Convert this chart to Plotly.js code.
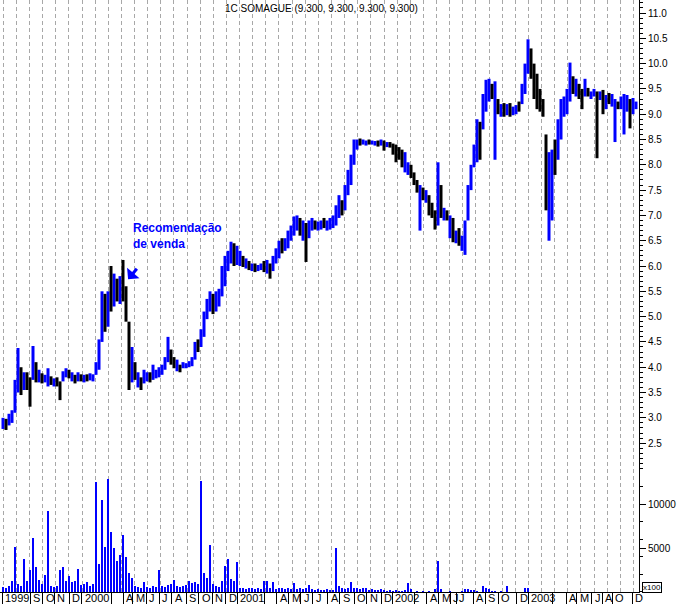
<!DOCTYPE html>
<html><head><meta charset="utf-8">
<script src="https://cdn.plot.ly/plotly-3.0.1.min.js"></script>
<style>html,body{margin:0;padding:0;background:#fff}#chart{width:679px;height:604px}</style>
</head><body><div id="chart"></div>
<script>
// Price bars (sampled), high / low per bar
const highs = [3.0,2.98,3.08,3.15,3.75,4.38,4.0,3.9,3.9,3.8,
4.42,4.1,3.95,3.88,3.85,3.98,3.82,3.78,3.8,3.72,
3.92,3.98,3.95,3.9,3.85,3.9,3.86,3.85,3.86,3.88,
3.86,4.1,4.55,5.5,5.45,5.5,6.0,5.85,5.75,5.8,
6.12,5.6,4.9,4.4,4.1,3.9,3.8,3.95,3.9,3.9,
4.05,3.95,4.0,4.05,4.2,4.6,4.35,4.2,4.15,4.05,
4.1,4.08,4.12,4.2,4.5,4.55,4.75,5.1,5.35,5.5,
5.45,5.5,5.55,6.0,6.2,6.3,6.48,6.45,6.4,6.3,
6.2,6.15,6.1,6.05,6.05,6.02,6.05,6.1,6.12,6.05,
6.2,6.35,6.5,6.55,6.55,6.7,6.8,6.98,7.0,6.95,
6.9,6.85,6.9,6.95,6.9,6.88,6.9,6.95,6.9,6.95,
7.0,7.2,7.4,7.3,7.6,7.9,8.2,8.5,8.5,8.52,
8.5,8.48,8.5,8.48,8.47,8.48,8.5,8.48,8.45,8.45,
8.42,8.4,8.35,8.3,8.25,8.05,8.0,7.85,7.7,7.6,
7.55,7.5,7.4,7.25,7.1,8.05,7.6,7.15,7.1,7.0,
6.95,6.7,6.75,6.6,6.9,7.6,8.0,8.4,8.9,8.85,
9.4,9.68,9.7,9.6,9.65,9.3,9.2,9.22,9.2,9.22,
9.15,9.18,9.25,9.6,10.0,10.48,10.3,10.0,9.8,9.5,
9.3,8.6,8.25,8.3,8.5,8.9,9.3,9.35,9.5,10.02,
9.75,9.7,9.6,9.5,9.7,9.52,9.45,9.5,9.45,9.45,
9.48,9.38,9.42,9.4,9.3,9.25,9.35,9.4,9.38,9.3,
9.32,9.25];
const lows = [2.78,2.76,2.85,2.9,3.1,3.5,3.45,3.55,3.55,3.22,
3.75,3.7,3.7,3.68,3.7,3.62,3.65,3.62,3.62,3.35,
3.72,3.8,3.78,3.72,3.68,3.72,3.72,3.7,3.72,3.74,
3.72,3.85,3.95,4.5,4.7,4.8,5.1,5.2,5.3,5.25,
5.3,4.9,3.55,3.7,3.75,3.6,3.55,3.68,3.72,3.7,
3.75,3.78,3.8,3.85,3.95,4.1,4.05,3.98,3.92,3.9,
3.98,3.98,4.0,4.02,4.15,4.3,4.4,4.6,4.95,5.1,
5.05,5.1,5.2,5.4,5.6,5.9,6.05,6.0,6.02,6.0,
5.98,5.95,5.92,5.9,5.88,5.9,5.92,5.88,5.85,5.75,
5.9,6.05,6.15,6.25,6.3,6.35,6.5,6.6,6.7,6.6,
6.5,6.08,6.55,6.7,6.72,6.7,6.72,6.75,6.7,6.72,
6.75,6.8,6.95,7.0,7.1,7.4,7.6,8.0,8.3,8.38,
8.4,8.38,8.4,8.4,8.38,8.36,8.38,8.28,8.35,8.34,
8.2,8.05,8.1,7.95,7.85,7.8,7.74,7.6,7.45,6.7,
7.3,7.25,7.0,6.95,6.72,6.8,6.95,6.9,6.9,6.55,
6.47,6.45,6.4,6.3,6.22,6.9,7.5,7.95,8.05,8.1,
8.7,9.05,9.25,9.3,8.1,9.0,8.95,8.95,8.98,8.95,
8.98,9.0,9.05,9.2,9.4,9.8,9.7,9.3,9.1,9.05,
8.95,7.1,6.5,6.9,7.8,8.1,8.5,8.95,9.0,9.25,
9.4,9.35,9.3,9.1,9.35,9.35,9.3,9.35,8.13,9.28,
9.0,9.1,9.2,9.15,8.45,9.1,9.1,8.6,9.05,8.72,
9.0,9.1];
// b = up bar (blue), k = down bar (black)
const direction = ("bkbbbbkbkk"+"bkbkbbkbkk"+"bbkbkbkbkb"+"bbbbkbkbkb"+
"kkkbkbkbbk"+"bbbbbbkkbk"+"bbbbbkbbbb"+"kbbbbbbkbb"+"kbkbkbbkbk"+
"bbbkbbbbbk"+"bkbbkbbkbb"+"bbbkbbbbbk"+"bbkbbkbkbk"+"kkkkbbkkkb"+
"kbkkkbkbkb"+"kbkbbbbbbk"+"bbbkbkbkbk"+"bbkbbbkkkk"+"kkbbkbbbbb"+
"kbkkbkbbkb"+"kbkbbkbbbk"+"bb").split("");
// Volume (x100)
const volumes = [600,500,700,1300,5100,900,700,3800,1200,2500,
6100,2800,1400,900,1900,9200,700,600,700,2500,
2800,1300,1800,1100,1200,2600,800,900,1100,700,
900,12500,3200,10450,5100,12800,6800,5000,3500,4200,
6500,4000,2200,1600,700,600,500,1100,600,500,
700,600,2500,700,600,800,900,1400,700,600,
700,800,1300,1000,1100,900,12600,2200,1600,5300,
900,700,600,1200,3000,3700,1500,1200,3400,500,
400,300,500,400,300,400,300,1300,1200,500,
1100,300,400,500,300,400,300,1000,300,400,
300,400,750,300,200,300,200,200,300,200,
200,5000,700,400,300,500,1100,400,500,300,
400,500,200,300,200,200,300,200,100,200,
100,200,100,100,200,1000,300,0,100,0,
100,0,100,0,300,3500,300,0,0,100,
0,0,0,100,300,300,200,200,100,0,
700,500,300,100,100,0,100,0,700,0,
0,0,0,0,400,400,0,0,0,0,
0,0,0,0,0,0,0,0,0,0,
0,0,0,0,0,0,0,0,0,0,
0,0,0,0,0,0,0,0,0,0,
0,0];
// Month ticks (bar index) and labels
const monthTickPos = [-0.3,9,13.3,17,22,26.3,36,40,43.3,47.7,52,56.3,61,65.3,69.7,74.3,78,87.3,91.3,95.3,99.3,103.3,108.3,112.3,117,121.3,126,129.7,137,141.3,145.3,149,151,156.7,160.7,165,171.3,175,183,187.7,191.3,196.3,199.7,203,209.7];
const monthTickText = ["1999","S","O","N","D","2000","","A","M","J","J","A","S","O","N","D","2001","","A","M","J","J","A","S","O","N","D","2002","","A","M","J","J","A","S","O","D","2003","","A","M","J","A","O","D"];
const priceTicks = [2.5,3.0,3.5,4.0,4.5,5.0,5.5,6.0,6.5,7.0,7.5,8.0,8.5,9.0,9.5,10.0,10.5,11.0];
const volumeTicks = [5000,10000];
const titleText = "1C SOMAGUE (9.300, 9.300, 9.300, 9.300)";
const noteText = "Recomendação<br>de venda";

const BLUE = "#0000ff";
const X0 = -1, X1 = 212, PLOTW = 639;
function segs(flag){
  const x=[],y=[];
  for(let i=0;i<highs.length;i++){
    if(direction[i]===flag){x.push(i,i,null);y.push(lows[i],highs[i],null);}
  }
  return {x,y};
}
const up=segs("b"), dn=segs("k");
const idx = volumes.map((v,i)=>i);
const traces = [
  {type:"scatter",mode:"lines",x:up.x,y:up.y,line:{color:BLUE,width:3},xaxis:"x",yaxis:"y",hoverinfo:"skip"},
  {type:"scatter",mode:"lines",x:dn.x,y:dn.y,line:{color:"#000",width:3},xaxis:"x",yaxis:"y",hoverinfo:"skip"},
  {type:"bar",x:idx,y:volumes,width:0.6,marker:{color:BLUE,line:{width:0}},xaxis:"x",yaxis:"y2",hoverinfo:"skip"}
];

// dashed vertical grid: every ~13 px, snapped to pixel centres
const shapes=[];
const pxPerUnit = PLOTW/(X1-X0);
for(let k=-2;k<=46;k++){
  const px = Math.round(29 + 13.13*k) + 0.5;
  const g = px/pxPerUnit + X0;
  shapes.push({type:"line",xref:"x",yref:"paper",x0:g,x1:g,y0:0,y1:1,layer:"below",line:{color:"#a8a8a8",width:1,dash:"4px,3px"}});
}

const minorPrice=[]; for(let k=20;k<=112;k++) minorPrice.push(k/10);
const minorVol=[]; for(let k=0;k<=13000;k+=2000) minorVol.push(k);

const annotations=[
  {text:titleText,xref:"paper",yref:"paper",x:0.503,y:0.985,xanchor:"center",yanchor:"middle",showarrow:false,font:{size:10,color:"#000"}},
  {text:noteText,xref:"x",yref:"y",x:42.7,y:6.6,xanchor:"left",yanchor:"middle",align:"left",showarrow:false,font:{size:12,color:BLUE,family:"Liberation Sans, Arial, sans-serif",weight:"bold"}},
  {text:"",xref:"x",yref:"y",x:41.7,y:5.74,ax:10,ay:-12,showarrow:true,arrowhead:1,arrowsize:0.9,arrowwidth:3,arrowcolor:BLUE,standoff:0,startstandoff:0},
  {text:"x100",xref:"paper",yref:"paper",x:1.005,y:0.0076,xanchor:"left",yanchor:"middle",showarrow:false,font:{size:8,color:"#000"},bordercolor:"#000",borderwidth:1,borderpad:0,bgcolor:"#fff"}
];
monthTickPos.forEach((p,i)=>{
  if(monthTickText[i]) annotations.push({text:monthTickText[i],xref:"x",yref:"paper",x:p,y:-0.0105,xanchor:"left",yanchor:"middle",xshift:1,showarrow:false,font:{size:11,color:"#000"}});
});

const layout={
  width:679,height:604,margin:{l:0,r:40,t:0,b:12,pad:0},
  paper_bgcolor:"#fff",plot_bgcolor:"#fff",showlegend:false,bargap:0,
  font:{family:"Liberation Sans, Arial, sans-serif",size:10,color:"#000"},
  xaxis:{range:[X0,X1],anchor:"y2",showgrid:false,zeroline:false,showline:true,linecolor:"#000",linewidth:1,
    ticks:"outside",ticklen:12,tickcolor:"#000",tickwidth:1,tickmode:"array",tickvals:monthTickPos,showticklabels:false,fixedrange:true},
  yaxis:{domain:[0.206,1],range:[1.968,11.257],side:"right",anchor:"x",showgrid:false,zeroline:false,showline:true,linecolor:"#000",linewidth:1,
    ticks:"outside",ticklen:6,tickcolor:"#000",tickmode:"array",tickvals:priceTicks,ticktext:priceTicks.map(v=>v.toFixed(1)),
    tickfont:{size:10},minor:{tickmode:"array",tickvals:minorPrice,ticks:"outside",ticklen:3,tickcolor:"#000",showgrid:false}},
  yaxis2:{domain:[0,0.206],range:[0,13864],side:"right",anchor:"x",showgrid:false,zeroline:false,showline:true,linecolor:"#000",linewidth:1,
    ticks:"outside",ticklen:6,tickcolor:"#000",tickmode:"array",tickvals:volumeTicks,ticktext:volumeTicks.map(String),
    tickfont:{size:10},minor:{tickmode:"array",tickvals:minorVol,ticks:"outside",ticklen:3,tickcolor:"#000",showgrid:false}},
  shapes:shapes,annotations:annotations
};
Plotly.newPlot("chart",traces,layout,{staticPlot:true,displayModeBar:false});
</script></body></html>
